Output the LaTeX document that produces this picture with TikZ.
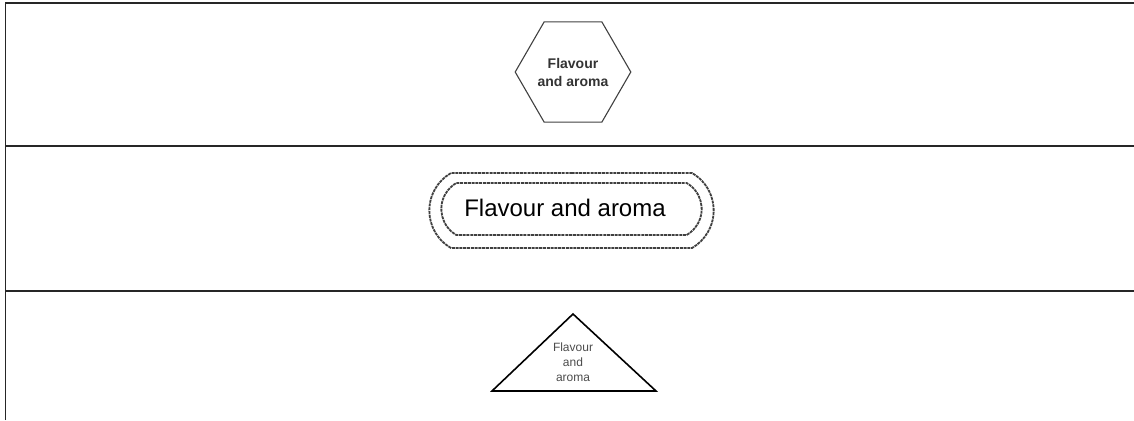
\documentclass[tikz,border=0pt]{standalone}
\usepackage{fontspec}
\setmainfont{Liberation Sans}
\usepackage{tikz}
\usetikzlibrary{shapes.geometric, shapes.misc}

\begin{document}
\begin{tikzpicture}[
    x=1pt, y=-1pt,
    frameLine/.style={draw=black!85, line width=1.5pt},
    hexNode/.style={regular polygon, regular polygon sides=6, draw=black!75, line width=1.1pt, minimum size=110pt, inner sep=0pt, align=center, font=\fontsize{14}{18}\selectfont\bfseries, text=black!80},
    pillInner/.style={rounded rectangle, rounded rectangle arc length=120, draw=black!75, line width=1.8pt, dash pattern=on 3pt off 0.8pt, minimum width=267pt, minimum height=52pt},
    pillOuter/.style={rounded rectangle, rounded rectangle arc length=120, draw=black!75, line width=1.8pt, dash pattern=on 3pt off 0.8pt, minimum width=291pt, minimum height=75pt},
    pillText/.style={font=\fontsize{24}{28}\selectfont, inner sep=0pt},
    triLabel/.style={align=center, font=\fontsize{12}{15}\selectfont, text=black!70}
]
\useasboundingbox (0,0) rectangle (1134,420);

% Frame
\draw[frameLine] (5.5,420) -- (5.5,3) -- (1134,3);
\draw[frameLine] (5.5,146) -- (1134,146);
\draw[frameLine] (5.5,291) -- (1134,291);

% Nodes
\node[hexNode] (hex) at (573,72) {Flavour\\and aroma};
\node[pillInner] (pill) at (571.5,209) {};
\node[pillOuter] (pillRim) at (571.5,210.5) {};
\node[pillText] (pillLabel) at (565,208) {Flavour and aroma};

% Triangle
\coordinate (apex) at (573,314);
\coordinate (baseL) at (492,391);
\coordinate (baseR) at (656,391);
\draw[line width=1.6pt] (apex) -- (baseR) -- (baseL) -- cycle;
\node[triLabel] (triText) at (573,362) {Flavour\\and\\aroma};

\end{tikzpicture}
\end{document}
